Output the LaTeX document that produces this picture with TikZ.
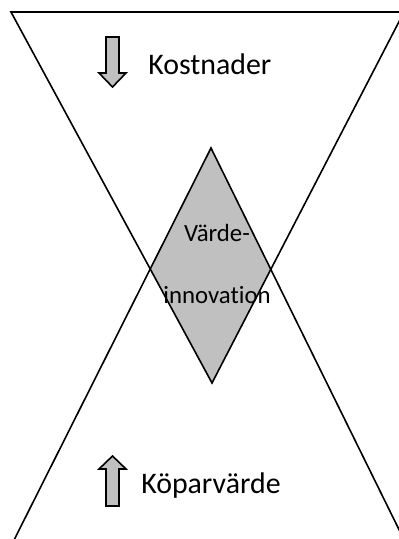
\documentclass[tikz,border=0pt]{standalone}
\usepackage{fontspec}
\setmainfont{Carlito}[Ligatures=CommonOff]
\definecolor{fillgray}{RGB}{192,192,192}
\begin{document}
\begin{tikzpicture}[x=0.75pt,y=-0.75pt,
  edge/.style={line width=1.2pt, line join=miter},
  blockarrow/.style={draw, line width=1.2pt, fill=fillgray, line join=miter},
  biglabel/.style={font=\fontsize{22.4}{26}\selectfont, inner sep=0pt},
  smalllabel/.style={font=\fontsize{18.6}{22}\selectfont, inner sep=0pt}]
\useasboundingbox (0,0) rectangle (399,539);
\clip (0,0) rectangle (399,539);

% inverted triangle (costs) and upright triangle (buyer value)
\coordinate (tl) at (11,12);
\coordinate (tr) at (404,12);
\coordinate (tb) at (212,383);
\coordinate (bt) at (211,148);
\coordinate (bl) at (4,560);
\coordinate (br) at (414,560);

% overlap of the two triangles
\coordinate (dl) at (intersection of tl--tb and bt--bl);
\coordinate (dr) at (intersection of tr--tb and bt--br);
\fill[fillgray] (bt) -- (dl) -- (tb) -- (dr) -- cycle;

\draw[edge] (tl) -- (tr) -- (tb) -- cycle;
\draw[edge] (bl) -- (bt) -- (br);

% block arrows
\draw[blockarrow] (106,37) -- (119,37) -- (119,73) -- (126,73) -- (112.5,87)
  -- (99,73) -- (106,73) -- cycle;
\draw[blockarrow] (106,506) -- (119,506) -- (119,469) -- (126,469) -- (112.5,456)
  -- (99,469) -- (106,469) -- cycle;

% labels
\node[biglabel, anchor=base west] (cost) at (148,74) {Kostnader};
\node[biglabel, anchor=base west] (value) at (141,493) {Köparvärde};
\node[smalllabel, anchor=base] (vi1) at (217,241) {Värde-};
\node[smalllabel, anchor=base] (vi2) at (217,303) {innovation};
\end{tikzpicture}
\end{document}
